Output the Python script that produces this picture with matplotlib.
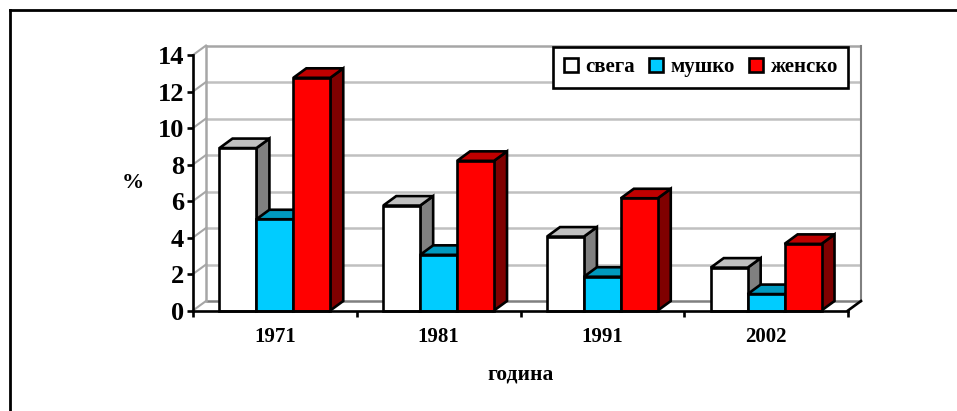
import matplotlib
matplotlib.use('Agg')
import matplotlib.pyplot as plt
import numpy as np
from matplotlib.lines import Line2D
from matplotlib.patches import Polygon

years = ['1971', '1981', '1991', '2002']
series_names = ['свега', 'мушко', 'женско']
svega = [8.9, 5.75, 4.05, 2.35]
mushko = [5.0, 3.05, 1.85, 0.9]
zensko = [12.75, 8.2, 6.15, 3.65]
y_ticks = [0, 2, 4, 6, 8, 10, 12, 14]

front_colors = ['#ffffff', '#00ccff', '#ff0000']
top_colors = ['#c0c0c0', '#0099bf', '#bf0000']
side_colors = ['#808080', '#007f9f', '#7f0000']

W, H = 957, 411
LEFT, RIGHT, BASE, TOP = 193, 848, 310.5, 55
EDGE = 1.9  # about 2.5 px at dpi 100

plt.rcParams['font.family'] = ['Liberation Serif', 'DejaVu Serif']
plt.rcParams['font.weight'] = 'bold'

fig = plt.figure(figsize=(W / 100, H / 100), dpi=100)
ax = fig.add_axes([LEFT / W, 1 - BASE / H, (RIGHT - LEFT) / W, (BASE - TOP) / H])
ax.set_xlim(0, len(years))
ax.set_ylim(0, 14)
ax.patch.set_alpha(0)

# depth of the fake 3d box, in data units
dx = 13 / ((RIGHT - LEFT) / len(years))
dy = 9.5 / ((BASE - TOP) / 14)
back_x = len(years) + dx

# back walls and gridlines
for t in y_ticks:
    col = '#808080' if t == 0 else '#c0c0c0'
    if t == 14:
        col = '#a6a6a6'
    ax.plot([dx, back_x], [t + dy, t + dy], color=col, lw=1.8, clip_on=False, zorder=1, solid_capstyle='butt')
    ax.plot([0, dx], [t, t + dy], color='#a6a6a6', lw=1.5, clip_on=False, zorder=1)
ax.plot([dx, dx], [dy, 14 + dy], color='#a6a6a6', lw=1.8, clip_on=False, zorder=1)
ax.plot([back_x, back_x], [dy, 14 + dy], color='#808080', lw=1.5, clip_on=False, zorder=1)
ax.plot([len(years), back_x], [0, dy], color='black', lw=EDGE, clip_on=False, zorder=2)

# bars, left to right so each one covers the side of the one before
x = np.arange(len(years)) + 0.5
width = 0.2255
for i, values in enumerate([svega, mushko, zensko]):
    xs = x + (i - 1) * width
    z = 3 + i
    for xc, v in zip(xs, values):
        x0 = xc - width / 2
        x1 = xc + width / 2
        top = [(x0, v), (x1, v), (x1 + dx, v + dy), (x0 + dx, v + dy)]
        side = [(x1, 0), (x1 + dx, dy), (x1 + dx, v + dy), (x1, v)]
        ax.add_patch(Polygon(side, closed=True, fc=side_colors[i], ec='black', lw=EDGE, zorder=z, clip_on=False))
        ax.add_patch(Polygon(top, closed=True, fc=top_colors[i], ec='black', lw=EDGE, zorder=z, clip_on=False))
    ax.bar(xs, values, width, color=front_colors[i], edgecolor='black', linewidth=EDGE, zorder=z, clip_on=False)

for s in ['top', 'right']:
    ax.spines[s].set_visible(False)
for s in ['left', 'bottom']:
    ax.spines[s].set_linewidth(EDGE)
    ax.spines[s].set_zorder(10)

ax.set_yticks(y_ticks)
ax.set_xticks(np.arange(len(years) + 1))
ax.set_xticklabels([])
ax.set_xticks(x, minor=True)
ax.set_xticklabels(years, minor=True, fontsize=15, fontweight='bold')
ax.tick_params(axis='x', which='major', length=4.5, width=EDGE)
ax.tick_params(axis='x', which='minor', length=0, pad=12)
ax.tick_params(axis='y', length=4.5, width=EDGE, labelsize=19, pad=2)

ax.set_xlabel('година', fontsize=15.5, fontweight='bold', labelpad=12.5)
ax.set_ylabel('%', fontsize=16, fontweight='bold', rotation=0, va='center', ha='center')
ax.yaxis.set_label_coords((133 - LEFT) / (RIGHT - LEFT), (BASE - 183) / (BASE - TOP), transform=ax.transAxes)

handles = [Line2D([], [], ls='', marker='s', ms=9.5, mfc=c, mec='black', mew=EDGE) for c in front_colors]
leg = ax.legend(handles, series_names, ncol=3, loc='upper right', bbox_to_anchor=(1.0, (BASE - 47) / (BASE - TOP)),
                fontsize=15, frameon=True, fancybox=False, framealpha=1, edgecolor='black', borderaxespad=0,
                handlelength=0.75, handletextpad=0.3, columnspacing=0.65, borderpad=0.5, labelspacing=0)
leg.get_frame().set_linewidth(EDGE)
leg.set_zorder(20)

# outer frame, only top and left are drawn in the original
fig.add_artist(Line2D([10 / W, 10 / W], [0, 1 - 10 / H], color='black', lw=2))
fig.add_artist(Line2D([10 / W, 1], [1 - 10 / H, 1 - 10 / H], color='black', lw=2))

fig.savefig('out.png', dpi=100)
